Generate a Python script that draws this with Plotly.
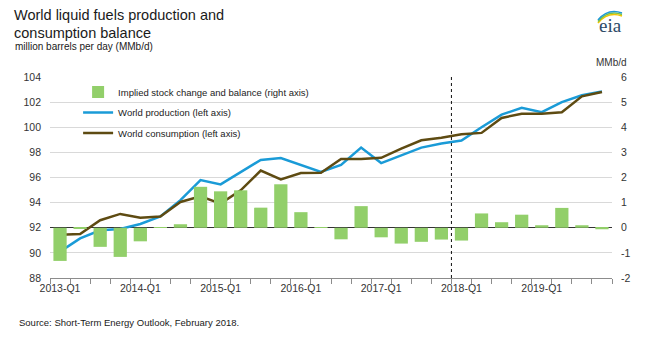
import plotly.graph_objects as go

# ---- data ----
tick_labels = ["2013-Q1", "2014-Q1", "2015-Q1", "2016-Q1", "2017-Q1", "2018-Q1", "2019-Q1"]
quarter_index = list(range(28))
tick_positions = [0, 4, 8, 12, 16, 20, 24]
right_tick_vals = [-2, -1, 0, 1, 2, 3, 4, 5, 6]
right_tick_text = ["-2", "-1", "0", "1", "2", "3", "4", "5", "6"]

production = [90.1, 91.15, 91.8, 91.9, 92.3, 92.9, 94.2, 95.8, 95.45, 96.4, 97.4, 97.55, 97.0, 96.45,
              97.0, 98.38, 97.15, 97.75, 98.38, 98.7, 98.95, 100.0, 101.0, 101.55, 101.2, 102.0, 102.55, 102.85]
consumption = [91.45, 91.5, 92.6, 93.1, 92.8, 92.9, 94.05, 94.5, 93.92, 94.98, 96.55, 95.85, 96.35, 96.38,
               97.47, 97.47, 97.57, 98.3, 98.96, 99.17, 99.45, 99.55, 100.74, 101.08, 101.08, 101.2, 102.46, 102.8]
stock_change = [-1.32, -0.03, -0.76, -1.16, -0.54, 0.02, 0.14, 1.63, 1.45, 1.49, 0.8, 1.73, 0.62, 0.02,
                -0.46, 0.86, -0.38, -0.63, -0.56, -0.47, -0.51, 0.57, 0.22, 0.52, 0.1, 0.79, 0.1, -0.06]
forecast_start = 19.5

FONT = "Liberation Sans, Arial, sans-serif"
W, H = 650, 347
L, R, T, B = 50, 38, 77, 69

fig = go.Figure()
fig.add_trace(go.Bar(x=quarter_index, y=stock_change, yaxis="y2", width=0.66,
                     marker=dict(color="#92cf6a", line=dict(width=0)),
                     name="Implied stock change and balance (right axis)", legendgroup="a"))
fig.add_trace(go.Scatter(x=quarter_index, y=production, mode="lines",
                         line=dict(color="#1a9bd7", width=2.5),
                         name="World production (left axis)", legendgroup="b"))
fig.add_trace(go.Scatter(x=quarter_index, y=consumption, mode="lines",
                         line=dict(color="#5e4b12", width=2.5),
                         name="World consumption (left axis)", legendgroup="c"))

def px2paper(px, py):
    return (px - L) / (W - L - R), (H - B - py) / (H - T - B)

def label(text, px, py, size, color="#1a1a1a", anchor="left", family=FONT):
    x, y = px2paper(px, py)
    return dict(text=text, x=x, y=y, xref="paper", yref="paper", xanchor=anchor, yanchor="middle",
                showarrow=False, font=dict(family=family, size=size, color=color))

annotations = [
    label("World liquid fuels production and", 12, 15, 14.5),
    label("consumption balance", 12, 33, 14.5),
    label("million barrels per day (MMb/d)", 13, 46.5, 10),
    label("MMb/d", 611, 62, 10, "#333333", "center"),
    label("Source: Short-Term Energy Outlook, February 2018.", 17, 322, 9.5),
    label("eia", 610, 26, 19, "#2d4a66", "center", "Liberation Serif, DejaVu Serif, serif"),
]

shapes = [
    dict(type="line", xref="x", yref="paper", x0=forecast_start, x1=forecast_start, y0=0, y1=1,
         line=dict(color="#111111", width=1, dash="dot")),
]
# eia logo arcs
for (dy, col) in [(3, "#f2c500"), (1.5, "#7cc243"), (0, "#1f9ad6")]:
    x0, y0 = px2paper(598, 20 + dy)
    cx, cy = px2paper(608, 8 + dy)
    x1, y1 = px2paper(622, 13 + dy)
    shapes.append(dict(type="path", xref="paper", yref="paper",
                       path=f"M {x0},{y0} Q {cx},{cy} {x1},{y1}",
                       line=dict(color=col, width=1.6)))

fig.update_layout(
    width=W, height=H,
    margin=dict(l=L, r=R, t=T, b=B),
    paper_bgcolor="white", plot_bgcolor="white",
    font=dict(family=FONT, size=10, color="#333333"),
    showlegend=True,
    legend=dict(x=0.05, y=0.997, xanchor="left", yanchor="top", bgcolor="rgba(0,0,0,0)",
                font=dict(family=FONT, size=9.5, color="#222222"), itemwidth=30,
                traceorder="grouped", tracegroupgap=1.5),
    xaxis=dict(range=[-0.5, 27.5], tickmode="array", tickvals=tick_positions, ticktext=tick_labels,
               ticks="", showgrid=False, zeroline=False, showline=True, linecolor="#8c8c8c", linewidth=1,
               tickfont=dict(family=FONT, size=10.5, color="#333333"), ticklabelstandoff=0,
               minor=dict(tick0=-0.5, dtick=1, ticks="outside", ticklen=5, tickcolor="#8c8c8c", showgrid=False)),
    yaxis=dict(range=[88, 104], dtick=2, showgrid=True, gridcolor="#d9d9d9", gridwidth=1,
               zeroline=False, showline=False, ticks="", ticklabelstandoff=8,
               tickfont=dict(family=FONT, size=10.5, color="#333333")),
    yaxis2=dict(range=[-2, 6], tickmode="array", tickvals=right_tick_vals, ticktext=right_tick_text,
                overlaying="y", side="right", showgrid=False,
                zeroline=True, zerolinecolor="#333333", zerolinewidth=1, showline=False,
                ticks="", ticklabelstandoff=8, tickfont=dict(family=FONT, size=10.5, color="#333333")),
    annotations=annotations,
    shapes=shapes,
)

fig.write_html("out.html")
